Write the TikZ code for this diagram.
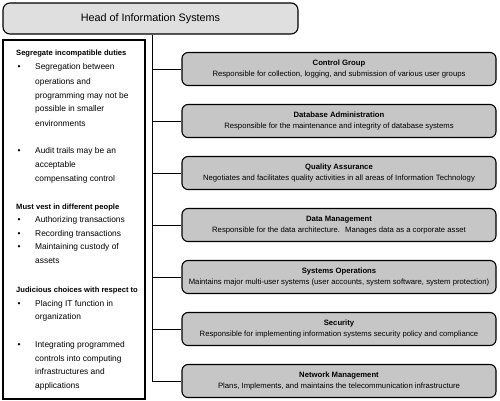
\documentclass[tikz,border=0pt]{standalone}
\usepackage{fontspec}
\setmainfont{Liberation Sans}
\begin{document}
\begin{tikzpicture}[x=1pt,y=-1pt,
  headbox/.style={draw=black, line width=1.1pt, rounded corners=7pt, fill=gray!25,
    minimum width=295pt, minimum height=31pt, inner sep=0pt,
    font=\fontsize{10.8}{13}\selectfont},
  unitbox/.style={draw=black, line width=1.1pt, rounded corners=6pt, fill=gray!45,
    minimum width=314pt, minimum height=33pt, inner sep=0pt, align=center,
    font=\fontsize{7.7}{11.5}\selectfont},
  panel/.style={draw=black, line width=1.2pt, minimum width=142pt,
    minimum height=359pt, inner sep=0pt},
  link/.style={draw=black, line width=0.9pt},
  hd/.style={anchor=base west, inner sep=0pt, font=\bfseries\fontsize{7.6}{9}\selectfont},
  tx/.style={anchor=base west, inner sep=0pt, font=\fontsize{8.4}{10}\selectfont},
]
\useasboundingbox (0,0) rectangle (500,401);

\node[headbox] (head) at (150.5,18.5) {Head of Information Systems};
\node[panel] (panel) at (74,219.5) {};

\node[unitbox] (cg) at (339,69) {\textbf{Control Group}\\Responsible for collection, logging, and submission of various user groups};
\node[unitbox] (da) at (339,121) {\textbf{Database Administration}\\Responsible for the maintenance and integrity of database systems};
\node[unitbox] (qa) at (339,173) {\textbf{Quality Assurance}\\Negotiates and facilitates quality activities in all areas of Information Technology};
\node[unitbox] (dm) at (339,225) {\textbf{Data Management}\\Responsible for the data architecture.~ Manages data as a corporate asset};
\node[unitbox] (so) at (339,277) {\textbf{Systems Operations}\\Maintains major multi-user systems (user accounts, system software, system protection)};
\node[unitbox] (se) at (339,329) {\textbf{Security}\\Responsible for implementing information systems security policy and compliance};
\node[unitbox] (nm) at (339,381) {\textbf{Network Management}\\Plans, Implements, and maintains the telecommunication infrastructure};

\coordinate (trunk) at (152,0);
\draw[link] (head.south -| trunk) |- (nm.west);
\foreach \n in {cg,da,qa,dm,so,se} \draw[link] (\n.west) -- (\n.west -| trunk);

% panel headings
\node[hd] (h1) at (16,56) {Segregate incompatible duties};
\node[hd] (h2) at (16,209.4) {Must vest in different people};
\node[hd] (h3) at (16,292) {Judicious choices with respect to};

% bullets
\foreach \y [count=\i] in {70,153.4,222.7,236,249.4,306,347.7}
  \node[tx] (bu\i) at (17.5,\y) {•};

% bullet text lines
\foreach \y/\t [count=\i] in {
  70/Segregation between,
  84.4/operations and,
  98.4/programming may not be,
  111.8/possible in smaller,
  126/environments,
  153.4/Audit trails may be an,
  167/acceptable,
  181/compensating control,
  222.7/Authorizing transactions,
  236/Recording transactions,
  249.4/Maintaining custody of,
  263.7/assets,
  306/Placing IT function in,
  319.4/organization,
  347.7/Integrating programmed,
  361/controls into computing,
  374.4/infrastructures and,
  388.7/applications}
  \node[tx] (ln\i) at (35,\y) {\t};
\end{tikzpicture}
\end{document}
